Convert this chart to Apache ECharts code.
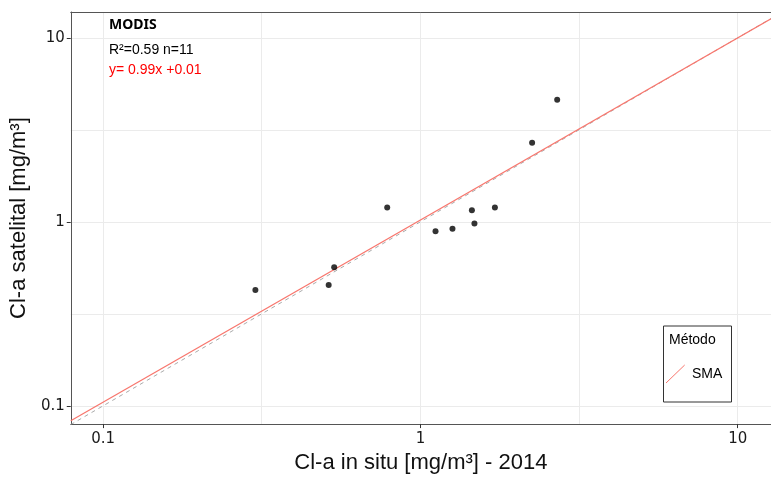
<!DOCTYPE html>
<html>
<head>
<meta charset="utf-8">
<script src="https://cdn.jsdelivr.net/npm/echarts@6/dist/echarts.min.js"></script>
<style>
html,body{margin:0;padding:0;background:#fff;}
#chart{width:771px;height:479px;}
</style>
</head>
<body>
<div id="chart"></div>
<script>
// ---- data ----
var inSitu    = [0.302, 0.535, 0.514, 0.786, 1.116, 1.262, 1.453, 1.480, 1.717, 2.249, 2.698];
var satelital = [0.426, 0.567, 0.453, 1.195, 0.890, 0.916, 1.156, 0.980, 1.195, 2.690, 4.606];
var tickValues = [0.1, 1, 10];
var gridValues = [0.1, 0.3162, 1, 3.162, 10];
var xRange = [0.0791, 12.73];
var yRange = [0.0796, 13.81];
var fitSlope = 0.99, fitIntercept = 0.01;   // SMA fit in log10 space
var title = 'MODIS';
var statsText = 'R²=0.59 n=11';
var eqText = 'y= 0.99x +0.01';

var points = inSitu.map(function (x, i) { return [x, satelital[i]]; });
var fitLine = xRange.map(function (x) { return [x, Math.pow(10, fitIntercept) * Math.pow(x, fitSlope)]; });
var oneToOne = xRange.map(function (x) { return [x, x]; });

var chart = echarts.init(document.getElementById('chart'), null, {renderer: 'canvas'});
var tickFont = {fontFamily: 'DejaVu Sans', fontSize: 15, color: '#1a1a1a'};
var borderColor = '#555';

chart.setOption({
  animation: false,
  backgroundColor: '#fff',
  grid: {left: 69, top: 12, right: 0, bottom: 52, containLabel: false},
  xAxis: [{
    type: 'log', logBase: 10, min: xRange[0], max: xRange[1], position: 'bottom',
    axisLine: {show: true, lineStyle: {color: borderColor, width: 1}},
    axisTick: {show: true, length: 4, lineStyle: {color: '#333'}, customValues: tickValues},
    axisLabel: {show: true, margin: 8, customValues: tickValues,
      formatter: function (v) { return String(+v.toPrecision(3)); }, ...tickFont},
    splitLine: {show: false},
    name: 'Cl-a in situ [mg/m³] - 2014', nameLocation: 'middle', nameGap: 26,
    nameTextStyle: {fontFamily: 'Liberation Sans', fontSize: 22, color: '#111'}
  }, {
    type: 'log', logBase: 10, min: xRange[0], max: xRange[1], position: 'top',
    axisLine: {show: true, lineStyle: {color: borderColor, width: 1}},
    axisTick: {show: false, customValues: gridValues},
    axisLabel: {show: false, customValues: gridValues},
    splitLine: {show: true, lineStyle: {color: '#ebebeb', width: 1}}
  }],
  yAxis: [{
    type: 'log', logBase: 10, min: yRange[0], max: yRange[1], position: 'left',
    axisLine: {show: true, lineStyle: {color: borderColor, width: 1}},
    axisTick: {show: true, length: 4, lineStyle: {color: '#333'}, customValues: tickValues},
    axisLabel: {show: true, margin: 6, customValues: tickValues,
      formatter: function (v) { return String(+v.toPrecision(3)); }, ...tickFont},
    splitLine: {show: false},
    name: 'Cl-a satelital [mg/m³]', nameLocation: 'middle', nameGap: 29, nameRotate: 90,
    nameTextStyle: {fontFamily: 'Liberation Sans', fontSize: 22, color: '#111'}
  }, {
    type: 'log', logBase: 10, min: yRange[0], max: yRange[1], position: 'right',
    axisLine: {show: false},
    axisTick: {show: false, customValues: gridValues},
    axisLabel: {show: false, customValues: gridValues},
    splitLine: {show: true, lineStyle: {color: '#ebebeb', width: 1}}
  }],
  series: [{
    type: 'line', data: oneToOne, symbol: 'none', silent: true,
    lineStyle: {color: '#aaaaaa', width: 1, type: [4, 4]}, z: 2
  }, {
    type: 'line', data: fitLine, symbol: 'none', silent: true,
    lineStyle: {color: '#F8766D', width: 1.2}, z: 3
  }, {
    type: 'scatter', data: points, symbol: 'circle', symbolSize: 6,
    itemStyle: {color: '#000'}, z: 4
  }],
  graphic: [
    {type: 'text', left: 109, top: 18, style: {text: title, font: 'bold 14px "Noto Sans"', fill: '#000'}},
    {type: 'text', left: 109, top: 43, style: {text: statsText, font: '14px "Liberation Sans"', fill: '#000'}},
    {type: 'text', left: 109, top: 63, style: {text: eqText, font: '14px "Liberation Sans"', fill: '#ff0000'}},
    {type: 'rect', shape: {x: 663.5, y: 326, width: 68, height: 76}, style: {fill: '#fff', stroke: '#333', lineWidth: 1}, z: 10},
    {type: 'text', left: 669, top: 333, style: {text: 'Método', font: '14px "Liberation Sans"', fill: '#000'}, z: 11},
    {type: 'line', shape: {x1: 666, y1: 383, x2: 684.7, y2: 365}, style: {stroke: '#F8766D', lineWidth: 1}, z: 11},
    {type: 'text', left: 692, top: 367, style: {text: 'SMA', font: '14px "Liberation Sans"', fill: '#000'}, z: 11}
  ]
});
</script>
</body>
</html>
